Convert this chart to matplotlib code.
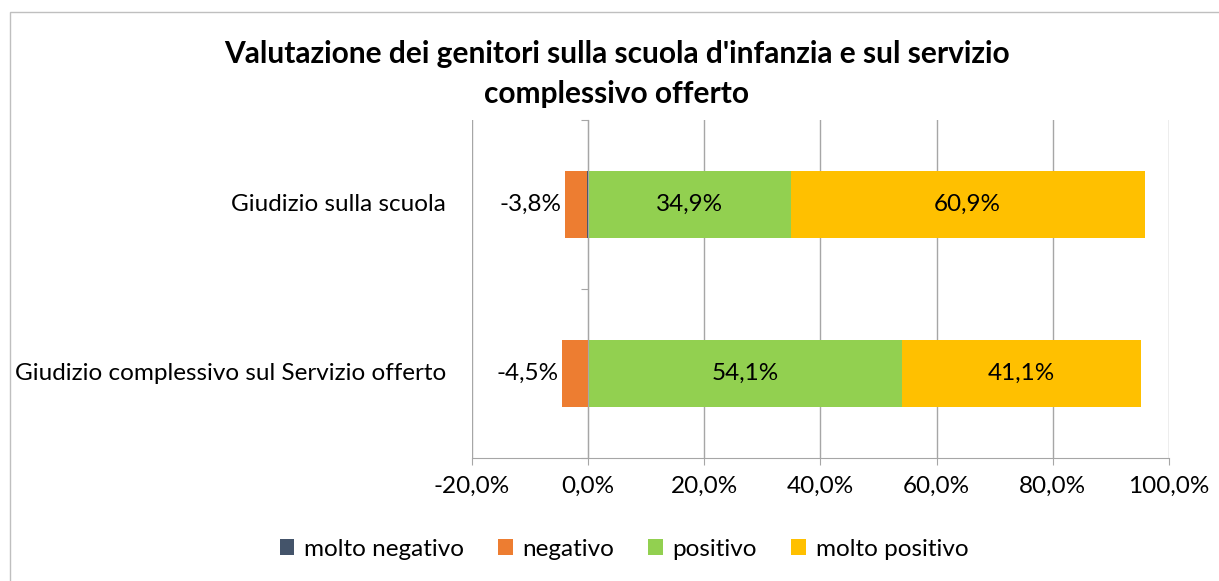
import numpy as np
import matplotlib.pyplot as plt
from matplotlib.patches import Rectangle

categorie = ["Giudizio sulla scuola", "Giudizio complessivo sul Servizio offerto"]
molto_negativo = [-0.2, 0.0]
negativo = [-3.8, -4.5]
positivo = [34.9, 54.1]
molto_positivo = [60.9, 41.1]
serie = ["molto negativo", "negativo", "positivo", "molto positivo"]
colori = ["#44546A", "#ED7D31", "#92D050", "#FFC000"]
xticks = [-20, 0, 20, 40, 60, 80, 100]

plt.rcParams["font.family"] = ["Lato", "DejaVu Sans"]

fig = plt.figure(figsize=(12.19, 5.81), dpi=100)
ax = fig.add_axes([472 / 1219, 1 - 458 / 581, (1169 - 472) / 1219, (458 - 120) / 581])

y = np.arange(len(categorie))
h = 0.4
mn = np.array(molto_negativo)
ng = np.array(negativo)
ps = np.array(positivo)
mp = np.array(molto_positivo)

ax.barh(y, mn, h, color=colori[0], label=serie[0], zorder=2)
ax.barh(y, ng, h, left=mn, color=colori[1], label=serie[1], zorder=2)
ax.barh(y, ps, h, color=colori[2], label=serie[2], zorder=2)
ax.barh(y, mp, h, left=ps, color=colori[3], label=serie[3], zorder=2)

def fmt(v):
    return f"{v:.1f}%".replace(".", ",")

fs = 17.5
for i in range(len(categorie)):
    ax.text(mn[i] + ng[i] - 0.6, y[i], fmt(ng[i]), ha="right", va="center", fontsize=fs)
    ax.text(ps[i] / 2, y[i], fmt(ps[i]), ha="center", va="center", fontsize=fs)
    ax.text(ps[i] + mp[i] / 2, y[i], fmt(mp[i]), ha="center", va="center", fontsize=fs)
    ax.text(-0.037, y[i], categorie[i], transform=ax.get_yaxis_transform(),
            ha="right", va="center", fontsize=fs)

ax.set_xlim(-20, 100)
ax.set_ylim(1.5, -0.5)
ax.set_xticks(xticks)
ax.set_xticklabels([fmt(v) for v in xticks], fontsize=fs)
ax.tick_params(axis="x", length=5, color="#A6A6A6", pad=8)
ax.grid(axis="x", color="#A6A6A6", linewidth=1, zorder=0)
ax.set_yticks([-0.5, 0.5, 1.5])
ax.set_yticklabels([])
ax.tick_params(axis="y", length=5, color="#A6A6A6")
ax.spines["left"].set_position(("data", 0))
ax.spines["left"].set_color("#A6A6A6")
ax.spines["left"].set_zorder(3)
ax.spines["bottom"].set_color("#A6A6A6")
ax.spines["top"].set_visible(False)
ax.spines["right"].set_visible(False)

fig.suptitle("Valutazione dei genitori sulla scuola d'infanzia e sul servizio\ncomplessivo offerto",
             x=617 / 1219, y=1 - 40 / 581, fontsize=21.5, fontweight="bold", linespacing=1.5)

fig.legend(loc="center", bbox_to_anchor=(624 / 1219, 1 - 549 / 581), ncol=4, frameon=False,
           fontsize=fs, handlelength=0.6, handleheight=0.6, handletextpad=0.4, columnspacing=1.4)

fig.patches.append(Rectangle((10 / 1219, -0.1), 1.2, 1 - 12 / 581 + 0.1, transform=fig.transFigure,
                             fill=False, edgecolor="#BFBFBF", linewidth=1))

fig.savefig("out.png", dpi=100)
